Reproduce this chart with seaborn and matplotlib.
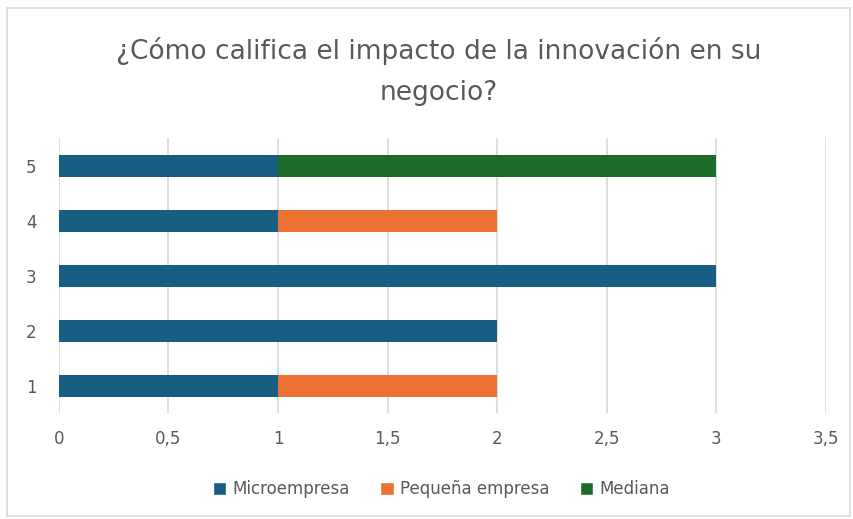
import seaborn as sns
import matplotlib.pyplot as plt
import pandas as pd
from matplotlib.patches import Rectangle, Patch

# Data
ratings = ["1", "2", "3", "4", "5"]
micro = [1, 2, 3, 1, 1]
pequena = [1, 0, 0, 1, 0]
mediana = [0, 0, 0, 0, 2]
series_names = ["Microempresa", "Pequeña empresa", "Mediana"]
colors = ["#175e82", "#eb7233", "#1c6b28"]

sns.set_style("white")
plt.rcParams["font.family"] = ["Liberation Sans Narrow", "DejaVu Sans"]

df = pd.DataFrame({"rating": ratings, "micro": micro, "pequena": pequena, "mediana": mediana})
df["c1"] = df["micro"]
df["c2"] = df["micro"] + df["pequena"]
df["c3"] = df["c2"] + df["mediana"]

fig = plt.figure(figsize=(8.54, 5.19), dpi=100)
ax = fig.add_axes([0.069, 0.204, 0.898, 0.53])

order = ["5", "4", "3", "2", "1"]
# overlay cumulative totals, largest first
for col, c in zip(["c3", "c2", "c1"], colors[::-1]):
    sns.barplot(data=df, x=col, y="rating", order=order, orient="h", color=c,
                width=0.4, ax=ax, saturation=1, linewidth=0)

ax.set_xlim(0, 3.5)
ax.set_xticks([0, 0.5, 1, 1.5, 2, 2.5, 3, 3.5])
ax.set_xticklabels(["0", "0,5", "1", "1,5", "2", "2,5", "3", "3,5"])
ax.set_axisbelow(True)
ax.grid(axis="x", color="#d9d9d9", linewidth=1.2)
ax.grid(axis="y", visible=False)
for s in ax.spines.values():
    s.set_visible(False)
ax.set_xlabel("")
ax.set_ylabel("")
ax.tick_params(axis="both", length=0, labelsize=12, colors="#595959", pad=12)
ax.tick_params(axis="y", pad=16)

fig.suptitle("¿Cómo califica el impacto de la innovación en su\nnegocio?",
             x=0.514, y=0.928, fontsize=19, color="#595959", linespacing=1.75)

handles = [Patch(facecolor=c, label=n) for c, n in zip(colors, series_names)]
fig.legend(handles=handles, loc="center", bbox_to_anchor=(0.517, 0.057), ncol=3,
           frameon=False, fontsize=12, labelcolor="#595959", handlelength=0.8,
           handleheight=0.8, columnspacing=1.8, handletextpad=0.4)

fig.patches.append(Rectangle((0.008, 0.005), 0.987, 0.98, transform=fig.transFigure,
                             fill=False, edgecolor="#d9d9d9", linewidth=1.2))

plt.savefig("out.png", dpi=100)
